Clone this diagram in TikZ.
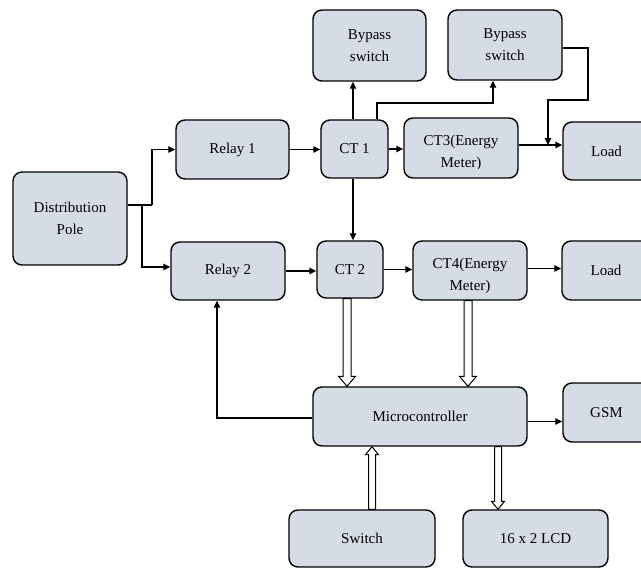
\documentclass[tikz,border=0pt]{standalone}
\usepackage{fontspec}
\setmainfont{Liberation Serif}
\newfontfamily\tnrfont{Liberation Serif}
\usetikzlibrary{arrows.meta,calc}
\definecolor{boxfill}{RGB}{214,220,229}
\tikzset{
 box/.style={draw=black, line width=1.4pt, fill=boxfill, rounded corners=9pt, align=center, inner sep=2pt, font=\tnrfont\fontsize{15}{22}\selectfont},
 lbl/.style={align=center, inner sep=0pt, font=\tnrfont\fontsize{15}{22}\selectfont},
 conn/.style={line width=1.2pt, -{Triangle[length=7pt,width=6.5pt]}},
 plain/.style={line width=1.2pt},
 hollow/.style={draw=black, line width=1pt, fill=white, line join=miter},
}
\newcommand\hollowdown[5]{\draw[hollow] let \p1=#1, \p2=#2 in (\x1-#3,\y1) -- (\x1-#3,\y2+#5) -- (\x1-#4,\y2+#5) -- (\x1,\y2) -- (\x1+#4,\y2+#5) -- (\x1+#3,\y2+#5) -- (\x1+#3,\y1) -- cycle;}
\newcommand\hollowup[5]{\draw[hollow] let \p1=#1, \p2=#2 in (\x1-#3,\y1) -- (\x1-#3,\y2-#5) -- (\x1-#4,\y2-#5) -- (\x1,\y2) -- (\x1+#4,\y2-#5) -- (\x1+#3,\y2-#5) -- (\x1+#3,\y1) -- cycle;}
\begin{document}
\begin{tikzpicture}[x=1pt,y=-1pt]
\useasboundingbox (0,0) rectangle (641,569);
% nodes
\node[box, minimum width=113pt, minimum height=71pt] (bp1) at (369.5,45.5) {Bypass\\switch};
\node[box, minimum width=114pt, minimum height=70pt] (bp2) at (505,45) {Bypass\\switch};
\node[box, minimum width=113pt, minimum height=59pt] (relay1) at (232.5,149.5) {Relay 1};
\node[box, minimum width=67pt, minimum height=58pt] (ct1) at (354.5,149) {CT 1};
\node[box, minimum width=114pt, minimum height=60pt] (ct3) at (461,148) {};
\node[box, minimum width=87pt, minimum height=58pt] (load1) at (606.5,151) {Load};
\node[box, minimum width=114pt, minimum height=93pt] (dist) at (70,218.5) {Distribution\\Pole};
\node[box, minimum width=114pt, minimum height=58pt] (relay2) at (228,271) {Relay 2};
\node[box, minimum width=66pt, minimum height=57pt] (ct2) at (350,269.5) {CT 2};
\node[box, minimum width=114pt, minimum height=59pt] (ct4) at (470,270.5) {};
\node[box, minimum width=88pt, minimum height=59pt] (load2) at (606,270.5) {Load};
\node[box, minimum width=214pt, minimum height=59pt] (mc) at (420,416.5) {Microcontroller};
\node[box, minimum width=87pt, minimum height=59pt] (gsm) at (606.5,412.5) {GSM};
\node[box, minimum width=146pt, minimum height=57pt] (sw) at (362,538.5) {Switch};
\node[box, minimum width=145pt, minimum height=57pt] (lcd) at (535.5,538.5) {16 x 2 LCD};
% clipped two-line labels
\begin{scope}
\clip (406,120) rectangle (516,168.5);
\node[lbl] (ct3t) at (461,153) {CT3(Energy\\Meter)};
\end{scope}
\begin{scope}
\clip (415,243) rectangle (525,292.5);
\node[lbl] (ct4t) at (470,275.5) {CT4(Energy\\Meter)};
\end{scope}
% junction coordinates
\coordinate (j1) at (152,205);
\coordinate (j2) at (142,205);
\coordinate (k1) at (377,103);
\coordinate (k2) at (493,103);
\coordinate (m1) at (588,100);
\coordinate (m2) at (548,100);
\coordinate (f1) at (217,418);
% connectors
\draw[plain] (dist.east |- j1) -- (j1);
\draw[conn] (j1) |- (relay1.west);
\draw[conn] (j2) |- ($(relay2.west)+(0,-4)$);
\draw[conn] (relay1.east) -- (relay1.east -| ct1.west);
\draw[conn] (relay2.east) -- (relay2.east -| ct2.west);
\draw[conn] ($(ct1.north)+(-1.5,0)$) -- ($(ct1.north |- bp1.south)+(-1.5,0)$);
\draw[conn] ($(ct1.south)+(-1.5,0)$) -- ($(ct1.south |- ct2.north)+(-1.5,0)$);
\draw[conn] (ct1.north -| k1) -- (k1) -- (k2) -- (k2 |- bp2.south);
\draw[conn] (ct1.east) -- (ct1.east -| ct3.west);
\draw[conn] ($(ct3.east)+(0,-3)$) -- ($(ct3.east -| load1.west)+(0,-3)$);
\draw[conn] ($(bp2.east)+(0,3)$) -- ($(bp2.east -| m1)+(0,3)$) -- (m1) -- (m2) -- ($(m2 |- ct3.east)+(0,-3)$);
\draw[conn] (ct2.east) -- (ct2.east -| ct4.west);
\draw[conn] ($(ct4.east)+(0,-2)$) -- ($(ct4.east -| load2.west)+(0,-2)$);
\draw[conn] ($(mc.east)+(0,5)$) -- ($(mc.east -| gsm.west)+(0,5)$);
\draw[conn] (mc.west |- f1) -- (f1) -- (f1 |- relay2.south);
% hollow arrows
\hollowdown{($(ct2.south)+(-3,0)$)}{(mc.north)}{4pt}{8.5pt}{10pt}
\hollowdown{($(ct4.south)+(-2,0)$)}{(mc.north)}{4pt}{8.5pt}{10pt}
\hollowup{($(sw.north)+(10,0)$)}{(mc.south)}{3.5pt}{6.5pt}{8pt}
\hollowdown{($(mc.south)+(78,0)$)}{(lcd.north)}{3.5pt}{6.5pt}{8pt}
\end{tikzpicture}
\end{document}
